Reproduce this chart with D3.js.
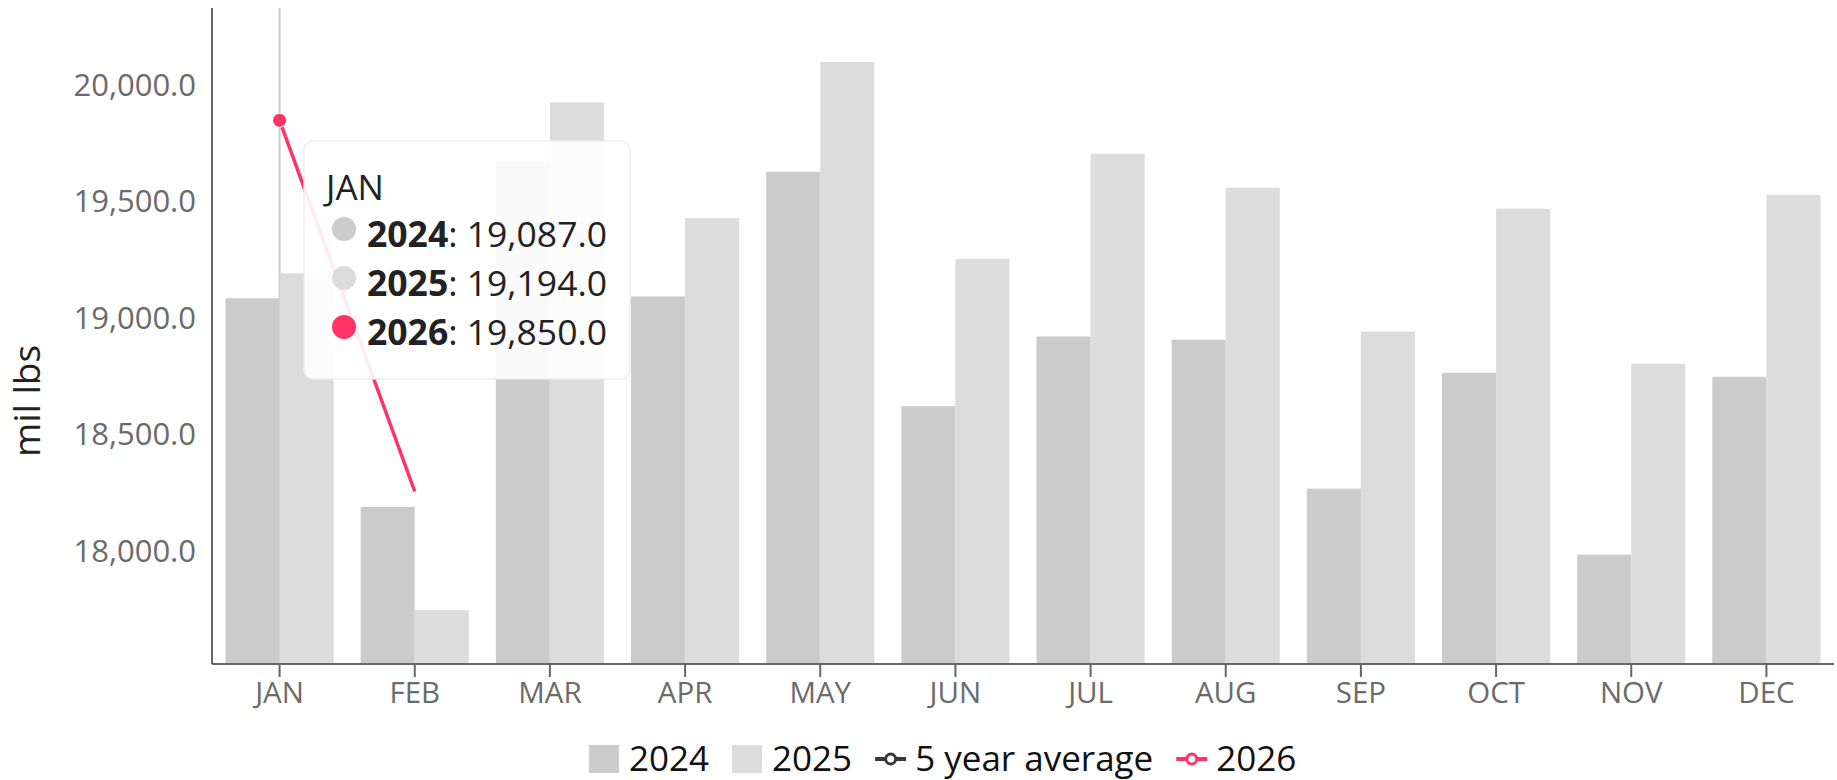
<!DOCTYPE html>
<html>
<head>
<meta charset="utf-8">
<script src="https://cdn.jsdelivr.net/npm/d3@7/dist/d3.min.js"></script>
<style>
  html, body { margin: 0; padding: 0; background: #fff; }
  svg { display: block; font-family: "Open Sans", sans-serif; }
</style>
</head>
<body>
<svg id="chart" width="1837" height="780"></svg>
<script>
// ---- data ----
const months = ["JAN","FEB","MAR","APR","MAY","JUN","JUL","AUG","SEP","OCT","NOV","DEC"];
const values2024 = [19087, 18192, 19678, 19095, 19629, 18624, 18923, 18909, 18270, 18767, 17987, 18750];
const values2025 = [19194, 17749, 19927, 19431, 20100, 19256, 19707, 19561, 18944, 19471, 18806, 19530];
const values2026 = [19850, 18258];
const fiveYearAverage = [];
const yTicks = [18000, 18500, 19000, 19500, 20000];
const yDomain = [17518, 20332];
const hoverMonth = "JAN";

// ---- layout ----
const W = 1837, H = 780;
const m = { left: 212, right: 3, top: 8, bottom: 116 };
const plotBottom = H - m.bottom;
const svg = d3.select("#chart");

const x = d3.scaleBand().domain(months).range([m.left, W - m.right]).paddingInner(0.2).paddingOuter(0.1);
const xs = d3.scaleBand().domain(["2024","2025"]).range([0, x.bandwidth()]);
const y = d3.scaleLinear().domain(yDomain).range([plotBottom, m.top]);

const colors = { "2024": "#cbcbcb", "2025": "#dcdcdc", "avg": "#383838", "2026": "#ff3366" };

// hover spike line (behind bars)
svg.append("line")
  .attr("x1", x(hoverMonth) + x.bandwidth()/2).attr("x2", x(hoverMonth) + x.bandwidth()/2)
  .attr("y1", m.top).attr("y2", plotBottom)
  .attr("stroke", "#cccccc").attr("stroke-width", 2);

// bars
const series = [["2024", values2024], ["2025", values2025]];
series.forEach(([name, vals]) => {
  svg.append("g").selectAll("rect").data(months).join("rect")
    .attr("x", d => x(d) + xs(name))
    .attr("width", xs.bandwidth())
    .attr("y", (d, i) => y(vals[i]))
    .attr("height", (d, i) => plotBottom - y(vals[i]))
    .attr("fill", colors[name]);
});

// axes
const yAxis = svg.append("g").attr("transform", `translate(${m.left},0)`)
  .call(d3.axisLeft(y).tickValues(yTicks).tickFormat(d3.format(",.1f")).tickSize(0).tickPadding(16));
yAxis.select(".domain").attr("stroke", "#666").attr("stroke-width", 2).attr("d", `M0,${m.top}V${plotBottom}`);
yAxis.selectAll("text").attr("font-size", 31).attr("fill", "#6b6b6b").attr("font-family", "Open Sans");

const xAxis = svg.append("g").attr("transform", `translate(0,${plotBottom})`)
  .call(d3.axisBottom(x).tickSize(13).tickPadding(5));
xAxis.select(".domain").attr("stroke", "#666").attr("stroke-width", 2).attr("d", `M${m.left},0H${W - m.right}`);
xAxis.selectAll(".tick line").attr("stroke", "#666").attr("stroke-width", 2);
xAxis.selectAll("text").attr("font-size", 29.5).attr("fill", "#6b6b6b").attr("font-family", "Open Sans");

// y title
svg.append("text")
  .attr("transform", `translate(40,401) rotate(-90)`)
  .attr("text-anchor", "middle")
  .attr("font-size", 37).attr("fill", "#222")
  .text("mil lbs");

// 2026 line
const line = d3.line().x((d, i) => x(months[i]) + x.bandwidth()/2).y(d => y(d));
svg.append("path").datum(values2026).attr("d", line)
  .attr("fill", "none").attr("stroke", colors["2026"]).attr("stroke-width", 3.5);
// 5 year average line (no data shown)
svg.append("path").datum(fiveYearAverage).attr("d", line)
  .attr("fill", "none").attr("stroke", colors.avg).attr("stroke-width", 3);

// hovered marker
const hi = months.indexOf(hoverMonth);
svg.append("circle")
  .attr("cx", x(hoverMonth) + x.bandwidth()/2).attr("cy", y(values2026[hi]))
  .attr("r", 7).attr("fill", colors["2026"]).attr("stroke", "#fff").attr("stroke-width", 1);

// tooltip
const fmt = d3.format(",.1f");
const tip = svg.append("g");
tip.append("rect").attr("x", 304).attr("y", 141).attr("width", 326).attr("height", 238)
  .attr("rx", 9).attr("fill", "rgba(255,255,255,0.9)").attr("stroke", "rgba(235,235,235,0.9)").attr("stroke-width", 1.5);
tip.append("text").attr("x", 326).attr("y", 200).attr("font-size", 35).attr("fill", "#222").text(hoverMonth);
const rows = [["2024", values2024[hi], colors["2024"]], ["2025", values2025[hi], colors["2025"]], ["2026", values2026[hi], colors["2026"]]];
rows.forEach(([name, v, c], i) => {
  tip.append("circle").attr("cx", 344).attr("cy", 229 + i*49).attr("r", 12).attr("fill", c);
  const t = tip.append("text").attr("x", 367).attr("y", 247 + i*49).attr("font-size", 35.5).attr("fill", "#222");
  t.append("tspan").attr("font-weight", "bold").text(name);
  t.append("tspan").text(": " + fmt(v));
});

// legend
const legendItems = [
  { label: "2024", type: "rect", color: colors["2024"] },
  { label: "2025", type: "rect", color: colors["2025"] },
  { label: "5 year average", type: "line", color: colors.avg },
  { label: "2026", type: "line", color: colors["2026"] }
];
const lg = svg.append("g");
let lx = 589;
const lBase = 771;
legendItems.forEach(it => {
  const g = lg.append("g");
  if (it.type === "rect") {
    g.append("rect").attr("x", lx).attr("y", lBase - 26).attr("width", 30).attr("height", 28).attr("fill", it.color);
    lx += 40;
  } else {
    g.append("line").attr("x1", lx).attr("x2", lx + 31).attr("y1", lBase - 12).attr("y2", lBase - 12)
      .attr("stroke", it.color).attr("stroke-width", 4);
    g.append("circle").attr("cx", lx + 15.5).attr("cy", lBase - 12).attr("r", 5)
      .attr("fill", "#fff").attr("stroke", it.color).attr("stroke-width", 3);
    lx += 40;
  }
  const t = g.append("text").attr("x", lx).attr("y", lBase).attr("font-size", 35).attr("fill", "#111").text(it.label);
  lx += t.node().getComputedTextLength() + 23;
});
</script>
</body>
</html>
